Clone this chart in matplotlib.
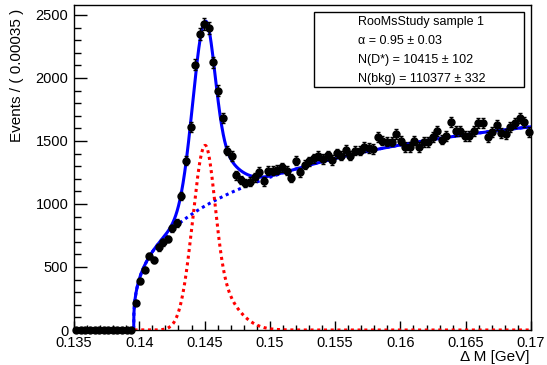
"""RooFit style plot of the D* mass difference fit"""
import numpy as np
import matplotlib
matplotlib.use("Agg")
import matplotlib.pyplot as plt
from matplotlib.ticker import MultipleLocator
from matplotlib.patches import Rectangle

plt.rcParams['font.family'] = ['Liberation Sans', 'DejaVu Sans']

# dataset: 100 bins of 0.00035 GeV between 0.135 and 0.17
x_lo, x_hi, n_bins = 0.135, 0.17, 100
counts = [0, 0, 0, 0, 0, 0, 0, 0, 0, 0,
          0, 0, 0, 215, 385, 480, 585, 558, 656, 696,
          722, 807, 849, 1061, 1344, 1613, 2106, 2350, 2430, 2397,
          2124, 1900, 1683, 1423, 1380, 1229, 1190, 1166, 1177, 1212,
          1257, 1180, 1265, 1265, 1270, 1291, 1265, 1206, 1344, 1251,
          1312, 1339, 1363, 1383, 1357, 1386, 1349, 1402, 1384, 1429,
          1384, 1423, 1423, 1450, 1442, 1437, 1529, 1503, 1495, 1495,
          1556, 1503, 1450, 1450, 1503, 1450, 1489, 1489, 1529, 1582,
          1511, 1542, 1648, 1582, 1582, 1542, 1537, 1582, 1643, 1643,
          1534, 1569, 1627, 1563, 1556, 1608, 1643, 1683, 1648, 1569]

# fitted model, in events per bin
dm0 = 0.13957                       # threshold
bkg_norm, bkg_pow, bkg_len = 6600., 0.36, 0.2
sig_amp, sig_mean = 1465., 0.14505
sig_wl, sig_wr, sig_wtail, sig_ftail = 0.00095, 0.00072, 0.0018, 0.3

legend_lines = ["RooMsStudy sample 1",
                "\u03b1 = 0.95 \u00b1 0.03",
                "N(D*) = 10415 \u00b1 102",
                "N(bkg) = 110377 \u00b1 332"]


def bkg_curve(x):
  d = np.clip(x - dm0, 0, None)
  return np.where(x > dm0, bkg_norm * d**bkg_pow * np.exp(-d / bkg_len), 0.)


def sig_curve(x):
  dx = x - sig_mean
  left = np.exp(-0.5 * (dx / sig_wl)**2)
  right = (1 - sig_ftail) * np.exp(-0.5 * (dx / sig_wr)**2) + \
    sig_ftail * np.exp(-0.5 * (dx / sig_wtail)**2)
  return sig_amp * np.where(dx < 0, left, right)


counts = np.array(counts, dtype=float)
width = (x_hi - x_lo) / n_bins
centers = x_lo + width * (np.arange(n_bins) + 0.5)
errs = np.sqrt(counts)

xs = np.linspace(x_lo, x_hi, 2000)
xs = np.sort(np.append(xs, [dm0 - 1e-9, dm0 + 1e-9]))
bkg = bkg_curve(xs)
sig = sig_curve(xs)

fig = plt.figure(figsize=(5.47, 3.65), dpi=100)
ax = fig.add_axes([74/547, 35/365, 457/547, 325/365])

ax.plot(xs, sig + bkg, color=(0, 0, 1), lw=2.2, zorder=3)
ax.plot(xs, bkg, color=(0, 0, 1), lw=2.2, ls=(0, (1, 1.2)), zorder=3)
ax.plot(xs, sig, color=(1, 0, 0), lw=2.2, ls=(0, (1, 1.2)), zorder=3)
ax.errorbar(centers, counts, yerr=errs, fmt='o', color='black', ms=5,
            elinewidth=1, capsize=1.5, capthick=1, zorder=4, clip_on=False)

ax.set_xlim(x_lo, x_hi)
ax.set_ylim(0, 2579)
ax.xaxis.set_minor_locator(MultipleLocator(0.001))
ax.yaxis.set_major_locator(MultipleLocator(500))
ax.yaxis.set_minor_locator(MultipleLocator(100))
ax.set_xticks([0.135, 0.14, 0.145, 0.15, 0.155, 0.16, 0.165, 0.17])
ax.set_xticklabels(['0.135', '0.14', '0.145', '0.15', '0.155', '0.16', '0.165', '0.17'])
ax.tick_params(axis='both', which='both', direction='in', labelsize=10.5, width=1)
ax.tick_params(axis='y', which='major', length=9.4, pad=4)
ax.tick_params(axis='y', which='minor', length=4.7)
ax.tick_params(axis='x', which='major', length=6.5, pad=4)
ax.tick_params(axis='x', which='minor', length=3.3)
for s in ax.spines.values():
  s.set_linewidth(1)

fig.text(17/547, 1 - 9/365, "Events / ( 0.00035 )", rotation=90,
         ha='center', va='top', fontsize=11)
fig.text(530/547, 1 - 357/365, "\u0394 M [GeV]", ha='right', va='center',
         fontsize=11)

# legend box with fit results
box = Rectangle((314/547, 1 - 87/365), 210/547, 75/365, transform=fig.transFigure,
                facecolor='white', edgecolor='black', lw=1, zorder=5)
fig.patches.append(box)
for i, line in enumerate(legend_lines):
  fig.text(358/547, 1 - (21.7 + 19.2*i)/365, line, ha='left', va='center',
           fontsize=9, zorder=6)

fig.savefig('out.png', dpi=100)
